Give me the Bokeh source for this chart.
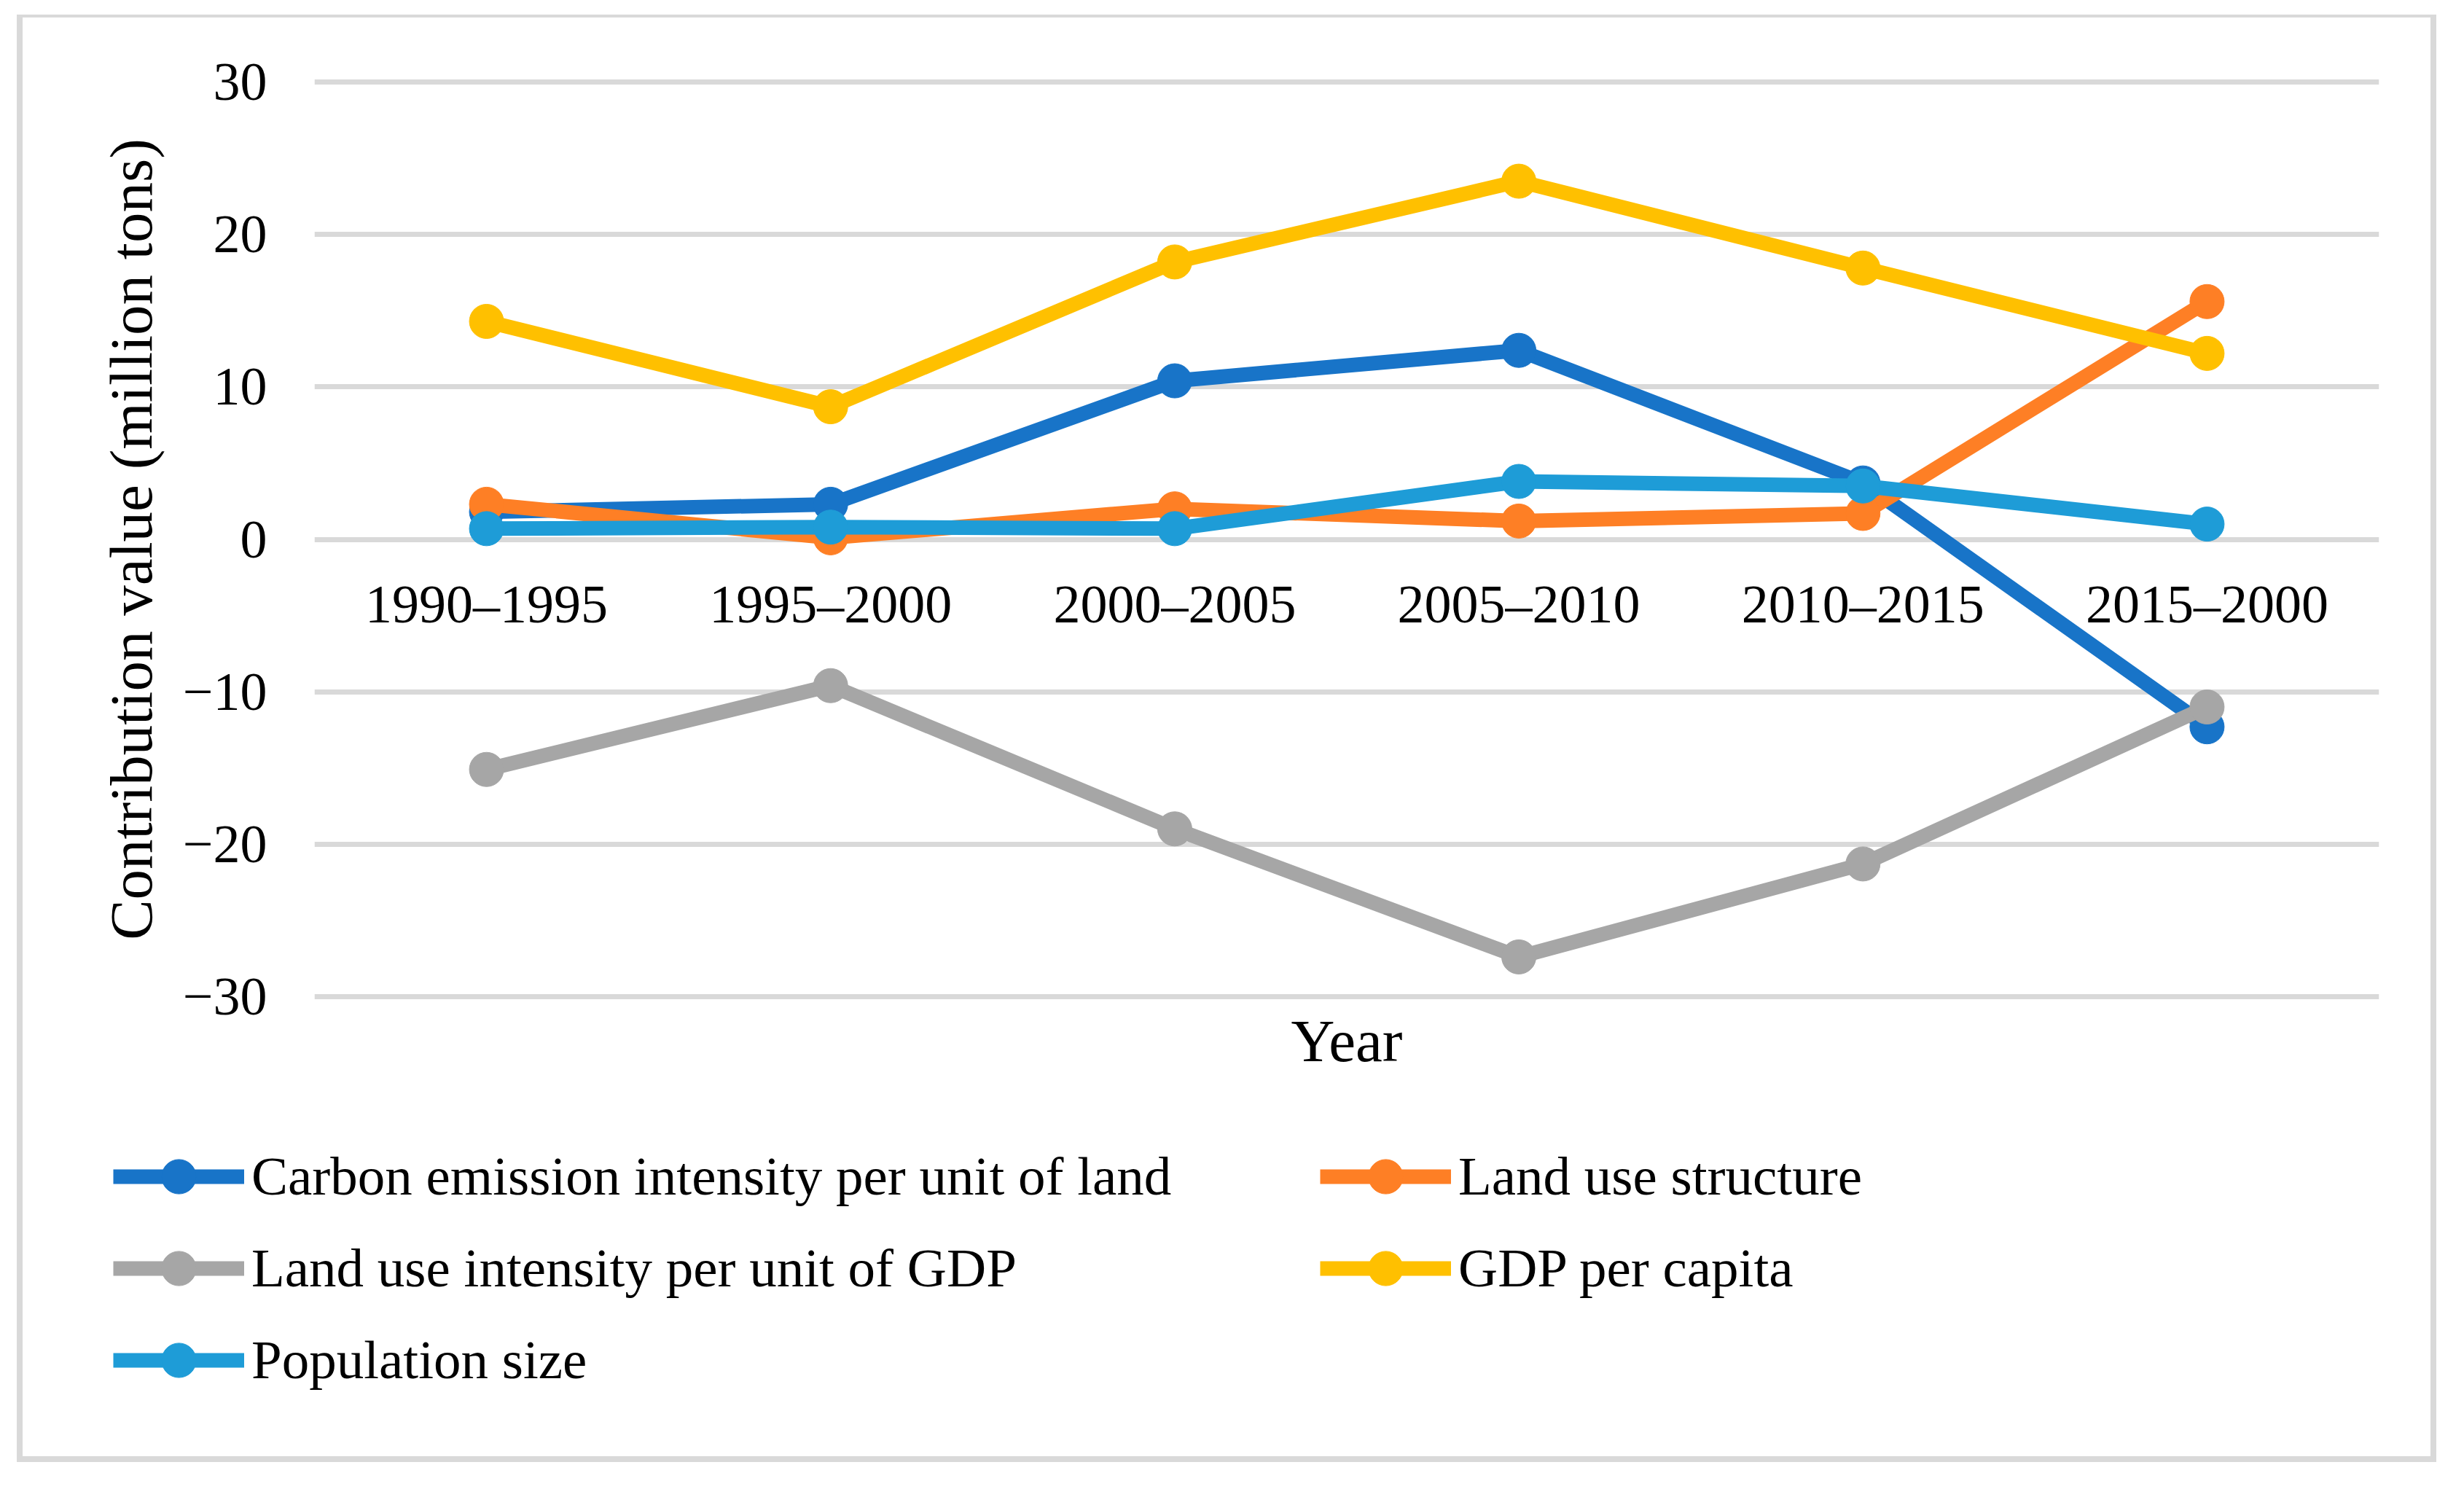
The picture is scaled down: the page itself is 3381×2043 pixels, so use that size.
from bokeh.plotting import figure
from bokeh.models import FactorRange, Range1d, FixedTicker, Legend, LegendItem
from bokeh.core.properties import value
from bokeh.embed import file_html
from bokeh.resources import INLINE

# ---- data ----
periods = ["1990–1995", "1995–2000", "2000–2005", "2005–2010", "2010–2015", "2015–2000"]
carbon_intensity_land = [1.8, 2.3, 10.4, 12.4, 3.7, -12.3]
land_use_structure = [2.3, 0.1, 2.0, 1.2, 1.7, 15.6]
land_use_intensity_gdp = [-15.1, -9.6, -19.0, -27.4, -21.3, -11.0]
gdp_per_capita = [14.3, 8.7, 18.2, 23.5, 17.8, 12.2]
population_size = [0.7, 0.8, 0.7, 3.8, 3.5, 1.0]

series_names = [
    "Carbon emission intensity per unit of land",
    "Land use structure",
    "Land use intensity per unit of GDP",
    "GDP per capita",
    "Population size",
]
series_values = [carbon_intensity_land, land_use_structure, land_use_intensity_gdp,
                 gdp_per_capita, population_size]
series_colors = ["#1874C8", "#FE7F25", "#A6A6A6", "#FFC000", "#1E9CD7"]

y_ticks = [-30, -20, -10, 0, 10, 20, 30]
y_tick_labels = ["−30", "−20", "−10", "0", "10", "20", "30"]

FONT = "Liberation Serif"
W = 3320
BORDER = "8px solid #d9d9d9"
LINE_W = 20
MARKER = 47

# ---------------- main chart ----------------
p = figure(
    width=W, height=1476,
    x_range=FactorRange(factors=periods, range_padding=0),
    y_range=Range1d(-30.2, 30.2),
    output_backend="svg", toolbar_location=None,
    min_border_left=400, min_border_right=87, min_border_top=84, min_border_bottom=129,
)
p.styles = {"border-top": "4px solid #d9d9d9", "border-left": BORDER, "border-right": BORDER,
            "margin-left": "23px", "margin-top": "20px"}
p.outline_line_color = None
p.background_fill_color = "white"
p.border_fill_color = "white"

p.xgrid.visible = False
p.ygrid.ticker = FixedTicker(ticks=y_ticks)
p.ygrid.grid_line_color = "#d9d9d9"
p.ygrid.grid_line_width = 7

yax = p.yaxis[0]
yax.ticker = FixedTicker(ticks=y_ticks)
yax.major_label_overrides = dict(zip(y_ticks, y_tick_labels))
yax.axis_line_color = None
yax.major_tick_line_color = None
yax.minor_tick_line_color = None
yax.major_tick_out = 0
yax.major_tick_in = 0
yax.major_label_standoff = 65
yax.major_label_text_font = FONT
yax.major_label_text_font_size = "74px"
yax.major_label_text_color = "black"
yax.axis_label = "Contribution value (million tons)"
yax.axis_label_text_font = FONT
yax.axis_label_text_font_size = "83px"
yax.axis_label_text_font_style = "normal"
yax.axis_label_text_color = "black"
yax.axis_label_standoff = 22

xax = p.xaxis[0]
xax.axis_line_color = None
xax.major_tick_line_color = None
xax.minor_tick_line_color = None
xax.major_tick_out = 0
xax.major_tick_in = 0
xax.major_label_standoff = 0
xax.major_label_text_font_size = "1px"
xax.major_label_text_alpha = 0
xax.axis_label = "Year"
xax.axis_label_text_font = FONT
xax.axis_label_text_font_size = "83px"
xax.axis_label_text_font_style = "normal"
xax.axis_label_text_color = "black"
xax.axis_label_standoff = 10

# category labels sitting just under the zero line
p.text(x=periods, y=[0] * len(periods), text=periods,
       text_font=value(FONT), text_font_size="74px", text_color="black",
       text_align="center", text_baseline="alphabetic", y_offset=89)

for name, vals, col in zip(series_names, series_values, series_colors):
    p.line(periods, vals, line_color=col, line_width=LINE_W)
    p.scatter(periods, vals, marker="circle", size=MARKER, fill_color=col, line_color=col)

# ---------------- legend strip ----------------
leg = figure(
    width=W, height=510,
    x_range=FactorRange(factors=periods, range_padding=0), y_range=Range1d(100, 101),
    output_backend="svg", toolbar_location=None,
    x_axis_location=None, y_axis_location=None,
    min_border=0, min_border_left=0, min_border_right=0, min_border_top=0, min_border_bottom=0,
)
leg.styles = {"border-bottom": BORDER, "border-left": BORDER, "border-right": BORDER,
              "margin-left": "23px"}
leg.outline_line_color = None
leg.xgrid.visible = False
leg.ygrid.visible = False
leg.background_fill_color = "white"
leg.border_fill_color = "white"

items = []
for name, vals, col in zip(series_names, series_values, series_colors):
    # same series, drawn outside this strip's visible range: only the legend keys show
    lr = leg.line(periods, vals, line_color=col, line_width=LINE_W)
    sr = leg.scatter(periods, vals, marker="circle", size=MARKER, fill_color=col, line_color=col)
    items.append(LegendItem(label=name, renderers=[lr, sr]))

legend = Legend(
    items=items, location=(124, 81), orientation="horizontal", ncols=2,
    glyph_width=180, glyph_height=118, spacing=8, label_standoff=10, label_width=1458,
    padding=0, margin=0, border_line_color=None, background_fill_alpha=0,
    label_text_font=FONT, label_text_font_size="75px", label_text_color="black",
)
leg.add_layout(legend, "center")

open("out.html", "w").write(file_html([p, leg], INLINE))
